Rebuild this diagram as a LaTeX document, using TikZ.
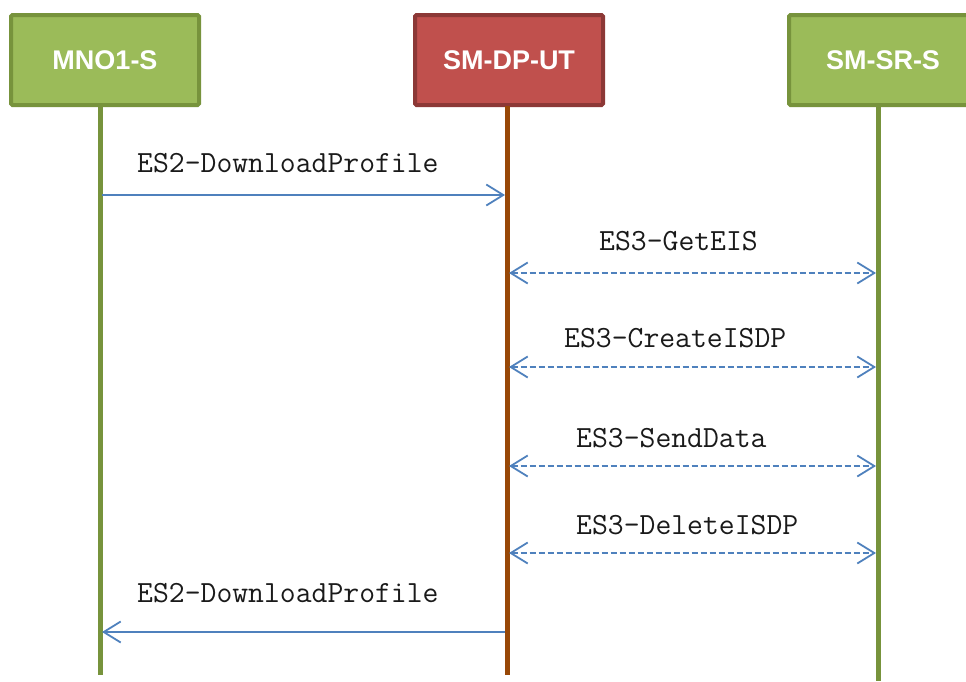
\documentclass[tikz,border=0pt]{standalone}
\usepackage{fontspec}
\setmainfont{Liberation Sans}
\usetikzlibrary{arrows.meta}
\definecolor{gfill}{HTML}{9BBB59}
\definecolor{gdraw}{HTML}{77933C}
\definecolor{rfill}{HTML}{C0504D}
\definecolor{rdraw}{HTML}{8C3836}
\definecolor{brownline}{HTML}{984807}
\definecolor{msgblue}{HTML}{4F81BD}
\definecolor{txtgray}{HTML}{1A1A1A}
\tikzset{
  actor/.style={rectangle, rounded corners=1.5pt, line width=4pt, minimum width=188pt, minimum height=90pt, inner sep=0pt, text=white, font=\fontsize{27}{30}\selectfont\bfseries},
  greenbox/.style={actor, fill=gfill, draw=gdraw},
  redbox/.style={actor, fill=rfill, draw=rdraw},
  greenlife/.style={draw=gdraw, line width=5pt},
  brownlife/.style={draw=brownline, line width=5pt},
  tip/.tip={Straight Barb[length=17pt,width=21pt,line width=1.8pt]},
  msg/.style={draw=msgblue, line width=1.8pt, -tip},
  reply/.style={draw=msgblue, line width=1.8pt, dash pattern=on 6pt off 3pt, tip-tip},
  lbl/.style={anchor=base west, inner sep=0pt, text=txtgray, font=\ttfamily\fontsize{30.8}{32}\selectfont}
}
\begin{document}
\begin{tikzpicture}[x=1pt,y=-1pt]
\useasboundingbox (0,0) rectangle (966,681);
% actors
\node[greenbox] (mno) at (105,60) {MNO1-S};
\node[redbox] (dp) at (509,60) {SM-DP-UT};
\node[greenbox] (sr) at (883,60) {SM-SR-S};
% lifeline ends
\coordinate (mnoTop) at (100,106);
\coordinate (mnoBot) at (100,675);
\coordinate (dpTop) at (507,106);
\coordinate (dpBot) at (507,675);
\coordinate (srTop) at (878,106);
\coordinate (srBot) at (878,681);
\draw[greenlife] (mnoTop) -- (mnoBot);
\draw[brownlife] (dpTop) -- (dpBot);
\draw[greenlife] (srTop) -- (srBot);
% message points
\coordinate (m1a) at (102,195); \coordinate (m1b) at (505,195);
\coordinate (m2a) at (509,273); \coordinate (m2b) at (876,273);
\coordinate (m3a) at (509,367); \coordinate (m3b) at (876,367);
\coordinate (m4a) at (509,466); \coordinate (m4b) at (876,466);
\coordinate (m5a) at (509,553); \coordinate (m5b) at (876,553);
\coordinate (m6a) at (505,632); \coordinate (m6b) at (102,632);
% labels
\node[lbl] (l1) at (137,172) {ES2-DownloadProfile};
\node[lbl] (l2) at (599,250) {ES3-GetEIS};
\node[lbl] (l3) at (564,347) {ES3-CreateISDP};
\node[lbl] (l4) at (576,447) {ES3-SendData};
\node[lbl] (l5) at (576,534) {ES3-DeleteISDP};
\node[lbl] (l6) at (137,602) {ES2-DownloadProfile};
% messages
\draw[msg] (m1a) -- (m1b);
\draw[reply] (m2a) -- (m2b);
\draw[reply] (m3a) -- (m3b);
\draw[reply] (m4a) -- (m4b);
\draw[reply] (m5a) -- (m5b);
\draw[msg] (m6a) -- (m6b);
\end{tikzpicture}
\end{document}
